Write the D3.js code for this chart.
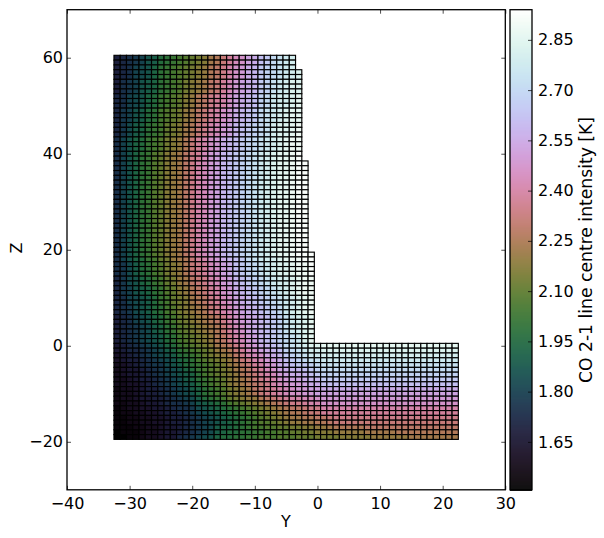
<!DOCTYPE html>
<html>
<head>
<meta charset="utf-8">
<script src="https://cdn.jsdelivr.net/npm/d3@7/dist/d3.min.js"></script>
<style>
html,body{margin:0;padding:0;background:#fff}
text{font-family:"DejaVu Sans",sans-serif;font-size:16px;fill:#000}
</style>
</head>
<body>
<svg id="c" width="604" height="538"></svg>
<script>
// Y and Z of the first cell in each row/column
const firstY = -32;
const firstZ = 60;
// Level digits: each character is one cell, value = levelBase + levelStep * index in levelDigits
const levelDigits = "0123456789abcdefghijklmnopqrstuvwxyzABCDEFGHIJKL";
const levelBase = 1.51;
const levelStep = 0.03;
// One string per Z row from Z=60 down to Z=-19, left to right from Y=-32
const intensityRows = [
"6789acdfghijklmoprtvwyzBCEFGH",
"6789acdfghijklmoprtvwyzBCEFGH",
"678abceghijklmnpqsuwxzACDEFGH",
"678abceghijklmnpqsuwxzACDEFGHI",
"678abceghijklmnpqsuwxzACDEFGHI",
"689acdeghijlmnoqrtvxyzACDFGHII",
"689acdeghijlmnoqrtvxyzACDFGHII",
"689acdeghijlmnoqrtvxyzACDFGHII",
"78abcefhijkmnpqstuwyzABDEGHHIJ",
"78abcefhijkmnpqstuwyzABDEGHHIJ",
"78abcefhijkmnpqstuwyzABDEGHHIJ",
"79acdfgijklnoqrtuwxzABCEFGHIJJ",
"79acdfgijklnoqrtuwxzABCEFGHIJJ",
"79acdfgijklnoqrtuwxzABCEFGHIJJ",
"79bdeghiklmoprsuvxyABCDEFHIIJK",
"79bdeghiklmoprsuvxyABCDEFHIIJK",
"79bdeghiklmoprsuvxyABCDEFHIIJK",
"8acefhijlmnprtuwxzABCDEFGHIJKK",
"8acefhijlmnprtuwxzABCDEFGHIJKK",
"8acefhijlmnprtuwxzABCDEFGHIJKK",
"8aceghjkmnoqstvxyABCDEFGHIJJKL",
"8aceghjkmnoqstvxyABCDEFGHIJJKL",
"8aceghjkmnoqsuvxyABCDEFGHIJJKLL",
"8aceghjkmnoqsuvxyABCDEFGHIJJKLL",
"8aceghjkmnoqsuvxyABCDEFGHIJJKLL",
"8aceghjkmnoqsuvxyABCDEFGHIJJKLL",
"8aceghjkmnoqsuvxyABCDEFGHIJJKLL",
"8aceghjkmnoqsuvxyABCDEFGHIJJKLL",
"8aceghjkmnoqsuvxyABCDEFGHIJJKLL",
"8aceghjkmnoqsuvxyABCDEFGHIJJKLL",
"8aceghjkmnoqsuvxyABCDEFGHIJJKLL",
"8aceghjkmnoqsuvxyABCDEFGHIJJKLL",
"8aceghjkmnoqsuvxyABCDEFGHIJJKLL",
"8aceghjkmnoqsuvxyABCDEFGHIJJKLL",
"8aceghjkmnoqsuvxyABCDEFGHIJJKLL",
"8aceghjkmnoqsuvxyABCDEFGHIJJKLL",
"8aceghjkmnoqsuvxyABCDEFGHIJJKLL",
"8aceghjkmnoqsuvxyABCDEFGHIJJKLL",
"8aceghjkmnoqsuvxyABCDEFGHIJJKLL",
"8aceghjkmnoqsuvxyABCDEFGHIJJKLL",
"8aceghjkmnoqsuvxyABCDEFGHIJJKLL",
"8aceghjkmnoqsuvxyABCDEFGHIJJKLLL",
"8acefhiklnoprtuwxzABCEFGHHIJKKLL",
"89bdfgijlmnprstvwyzBCDEFGHIIJKKL",
"89bdfgijlmnprstvwyzBCDEFGHIIJKKL",
"89bdfgijlmnprstvwyzBCDEFGHIIJKKL",
"79bcefhiklnoqrsuvxyABCDEFGHHIJKK",
"79bcefhiklnoqrsuvxyABCDEFGHHIJKK",
"79acdeghjkmnpqrtuwxzABCDEFGHIJKK",
"79acdeghjkmnpqrtuwxzABCDEFGHIJKK",
"78abcdfhiklmopqstvwyzABCDEFGHIJK",
"78abcdfhiklmopqstvwyzABCDEFGHIJK",
"789bcdfgijlmnoprsuvxyzABCDEGHIJK",
"789bcdfgijlmnoprsuvxyzABCDEGHIJK",
"678abcefhiklmnopqsuwxyzABCDFGHIJ",
"678abcefhiklmnopqsuwxyzABCDFGHIJ",
"6789abdeghjklmnoprtvwyzABCDFGHIJ",
"6789abdeghjklmnoprtvwyzABCDFGHIJ",
"6789abcdfgijklmnpqsuvxyABCDEFGIJ",
"6789abcdfgijklmnpqsuvxyABCDEFGIJ",
"56789abcefhijklmopqsuwxzABCEFGHIIJJJJJJJJJJJJJJJJJJJJJJ",
"567789abdeghijklnoprtvwyzABDEFGHHIIIIIIIIIIIIIIIIIIIIII",
"456789abcdfghiklmnoqsuvwyzACDEFGGHHHHHHHHHHHHHHHHHHHHHH",
"4566789abcefgijklmnprsuvxyzBCDEFFGGGGGGGGGGGGGGGGGGGGGG",
"34567899bcdfghijklnoqrtuwxzABCCDEFFFFFFFFFFFFFFFFFFFFFF",
"34556789abcefhijklmopqstvwyzAABCDEEEEEEEEEEEEEEEEEEEEEE",
"34556789abcdegijklmnpqrtuvxyzzABCDDDDDDDDDDDDDDDDDDDDDD",
"334566789abdeghijkmnoprstuwxyyzAACCCCCCCCCCCCCCCCCCCCCC",
"334456789abcdfhijkmnopqrsuvwxxyzzBBBBBBBBBBBBBBBBBBBBBB",
"2334566789abdeghijlmnoqrstuvwxxyyzzzzzzzzzzzzzzzzzzzzzz",
"2334566789abceghijlmnoprstuvwwxxyyyyyyyyyyyyyyyyyyyyyyy",
"23345566789abdfghiklmnnpqrstuuvvwxxxxxxxxxxxxxxxxxxxxxx",
"223345567889acdefgijklmnopqrsstuuwwwwwwwwwwwwwwwwwwwwww",
"1233445567889bcdefghijklmnopqqrssuuuuuuuuuuuuuuuuuuuuuu",
"1223344566789abcdefghijklmnoppqrrtttttttttttttttttttttt",
"11223344566789abcdefghijklmnooppqqrssssssssssssssssssss",
"11223344566789abcdefghijjklmnnooppqrrrrrrrrrrrrrrrrrrrr",
"11122334556789abdeefghiijjkkllmmnnopppppqqqqqqqqqqqqqqq",
"01112334556789abdeffgghhiijjkkllmmmnnnnnooooopppppppppp",
"0011233455789abceffgghhiiijjjkkkllllmmmmmnnnnnnoooooooo"
];
const xTicks = [-40, -30, -20, -10, 0, 10, 20, 30];
const yTicks = [-20, 0, 20, 40, 60];
const barTicks = [1.65, 1.80, 1.95, 2.10, 2.25, 2.40, 2.55, 2.70, 2.85];
const xDomain = [-40, 30];
const yDomain = [-30, 70];
const barDomain = [1.507, 2.94];
const xTitle = "Y";
const yTitle = "Z";
const barTitle = "CO 2-1 line centre intensity [K]";

const cells = intensityRows.flatMap((row, r) =>
  Array.from(row, (ch, c) => ({
    y: firstY + c,
    z: firstZ - r,
    value: levelBase + levelStep * levelDigits.indexOf(ch)
  })));

const axLeft = 67, axRight = 505.3, axTop = 9.7, axBottom = 489.8;
const barLeft = 510, barRight = 532;
const svg = d3.select("#c");
const x = d3.scaleLinear().domain(xDomain).range([axLeft, axRight]);
const y = d3.scaleLinear().domain(yDomain).range([axBottom, axTop]);
const t = d3.scaleLinear().domain(barDomain).range([0, 1]);
const color = v => d3.interpolateCubehelixDefault(t(v));
const yBar = d3.scaleLinear().domain(barDomain).range([axBottom, axTop]);

svg.append("g").selectAll("rect").data(cells).join("rect")
  .attr("x", d => x(d.y - 0.5))
  .attr("y", d => y(d.z + 0.5))
  .attr("width", d => x(d.y + 0.5) - x(d.y - 0.5))
  .attr("height", d => y(d.z - 0.5) - y(d.z + 0.5))
  .attr("fill", d => color(d.value))
  .attr("stroke", "#000")
  .attr("stroke-width", 1.15);

function style(g, labels) {
  g.select(".domain").remove();
  g.selectAll(".tick line").attr("stroke", "#000").attr("stroke-width", 0.7);
  g.selectAll(".tick text").attr("fill", "#000").style("font-size", "16px")
    .style("font-family", '"DejaVu Sans",sans-serif');
  if (!labels) g.selectAll(".tick text").remove();
}

svg.append("g").attr("transform", `translate(0,${axBottom})`)
  .call(d3.axisBottom(x).tickValues(xTicks).tickSize(-4).tickPadding(8).tickFormat(d3.format("d")))
  .call(g => style(g, true));
svg.append("g").attr("transform", `translate(0,${axTop})`)
  .call(d3.axisTop(x).tickValues(xTicks).tickSize(-4))
  .call(g => style(g, false));
svg.append("g").attr("transform", `translate(${axLeft},0)`)
  .call(d3.axisLeft(y).tickValues(yTicks).tickSize(-4).tickPadding(4).tickFormat(d3.format("d")))
  .call(g => style(g, true));
svg.append("g").attr("transform", `translate(${axRight},0)`)
  .call(d3.axisRight(y).tickValues(yTicks).tickSize(-4))
  .call(g => style(g, false));

svg.append("rect").attr("x", axLeft).attr("y", axTop)
  .attr("width", axRight - axLeft).attr("height", axBottom - axTop)
  .attr("fill", "none").attr("stroke", "#000").attr("stroke-width", 1.3);

// Colour bar
const barPixels = d3.range(axTop, axBottom, 1);
svg.append("g").selectAll("rect").data(barPixels).join("rect")
  .attr("x", barLeft).attr("y", d => d)
  .attr("width", barRight - barLeft).attr("height", 1.2)
  .attr("fill", d => color(yBar.invert(d + 0.5)));
svg.append("g").attr("transform", `translate(${barRight},0)`)
  .call(d3.axisRight(yBar).tickValues(barTicks).tickSize(-4).tickPadding(6).tickFormat(d3.format(".2f")))
  .call(g => style(g, true));
svg.append("rect").attr("x", barLeft).attr("y", axTop)
  .attr("width", barRight - barLeft).attr("height", axBottom - axTop)
  .attr("fill", "none").attr("stroke", "#000").attr("stroke-width", 1.3);

svg.append("text").attr("x", 286).attr("y", 527).attr("text-anchor", "middle").text(xTitle);
svg.append("text").attr("transform", "translate(22,248) rotate(-90)").attr("text-anchor", "middle").text(yTitle);
svg.append("text").attr("transform", "translate(592,250) rotate(-90)").attr("text-anchor", "middle").style("font-size", "17.2px").text(barTitle);
</script>
</body>
</html>
